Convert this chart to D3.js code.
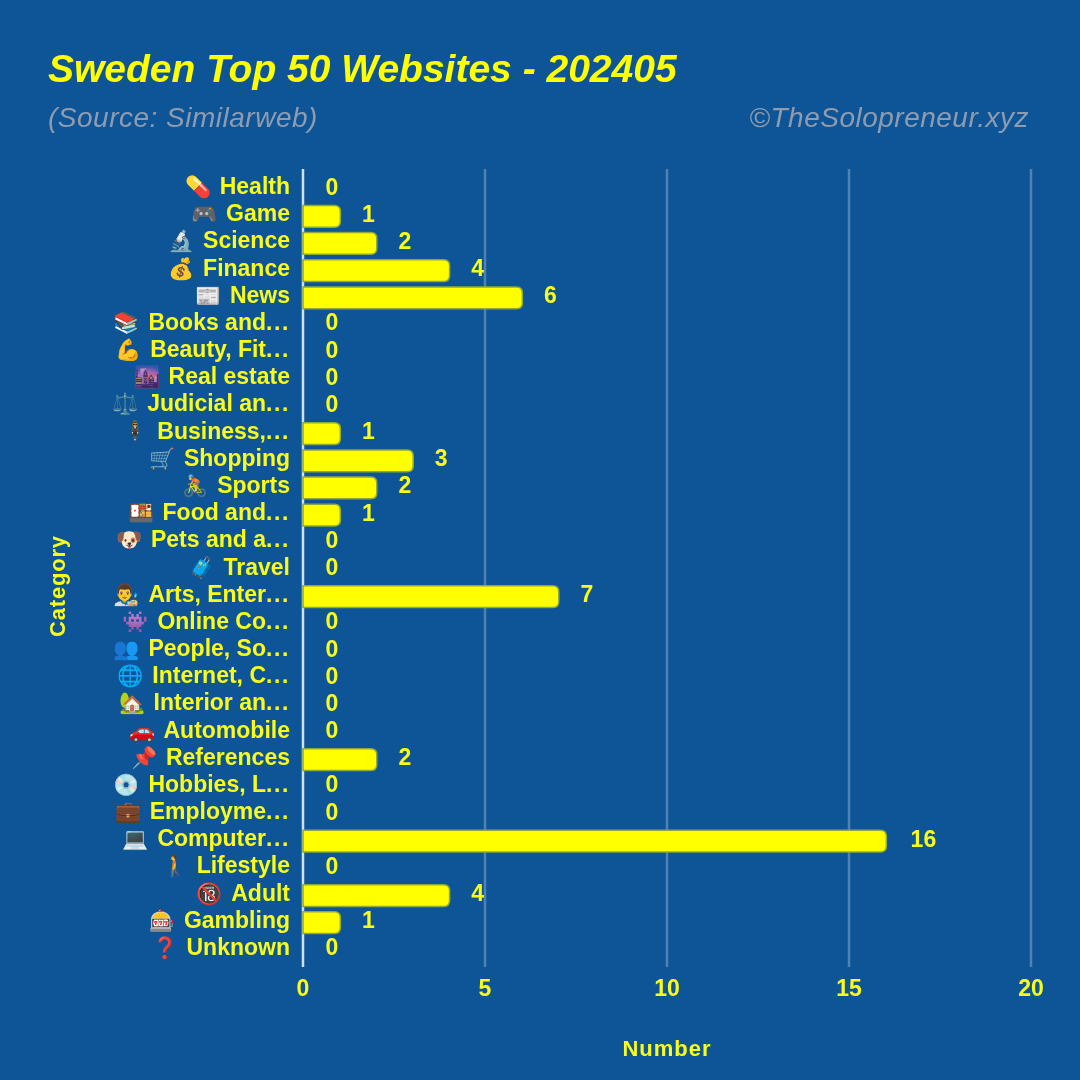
<!DOCTYPE html>
<html><head><meta charset="utf-8">
<script src="https://cdn.jsdelivr.net/npm/d3@7/dist/d3.min.js"></script>
<style>html,body{margin:0;padding:0;background:#0d5596}svg{display:block;filter:blur(0.55px)}text{font-family:"Liberation Sans",Arial,sans-serif}</style>
</head><body><svg id="c" width="1080" height="1080"></svg>
<script>
const icons=["💊","🎮","🔬","💰","📰","📚","💪","🌆","⚖️","🕴️","🛒","🚴","🍱","🐶","🧳","👨‍🎨","👾","👥","🌐","🏡","🚗","📌","💿","💼","💻","🚶","🔞","🎰","❓"];
const categories=["Health","Game","Science","Finance","News","Books and","Beauty, Fit","Real estate","Judicial an","Business,","Shopping","Sports","Food and","Pets and a","Travel","Arts, Enter","Online Co","People, So","Internet, C","Interior an","Automobile","References","Hobbies, L","Employme","Computer","Lifestyle","Adult","Gambling","Unknown"];
const truncated=[5,6,8,9,12,13,15,16,17,18,19,22,23,24];
const values=[0,1,2,4,6,0,0,0,0,1,3,2,1,0,0,7,0,0,0,0,0,2,0,0,16,0,4,1,0];
const xTicks=[0,5,10,15,20];
const W=1080,YEL="#ffff00",TXT="#fbfb1a";
const svg=d3.select("#c");
svg.append("rect").attr("x",-5).attr("y",-5).attr("width",W+10).attr("height",W+10).attr("fill","#0d5596");
const x=d3.scaleLinear().domain([0,20]).range([303,1031]);
const y=d3.scaleBand().domain(categories).range([175.5,963.5]).paddingInner(0.2).paddingOuter(0.1);
const g=svg.append("g");
g.selectAll("line.grid").data(xTicks).join("line").attr("x1",d=>x(d)).attr("x2",d=>x(d)).attr("y1",169).attr("y2",967)
 .attr("stroke",d=>d===0?"#cfe0f0":"#4f82b2").attr("stroke-width",2.5);
g.selectAll("path.bar").data(values.map((v,i)=>({v,c:categories[i]})).filter(d=>d.v>0)).join("path").attr("fill",YEL).attr("stroke","#8fa83a").attr("stroke-width",1.5)
 .attr("d",d=>{const x0=x(0),x1=x(d.v)+1,t=y(d.c),h=y.bandwidth(),r=6;return `M${x0},${t}H${x1-r}Q${x1},${t} ${x1},${t+r}V${t+h-r}Q${x1},${t+h} ${x1-r},${t+h}H${x0}Z`;});
g.selectAll("text.val").data(values).join("text").attr("x",d=>x(d)+(d>=10?38:29)).attr("y",(d,i)=>y(categories[i])+y.bandwidth()/2+5.5)
 .attr("text-anchor","middle").attr("fill",TXT).attr("font-size",23).attr("font-weight",700).text(d=>d);
categories.forEach((c,i)=>{
 const t=g.append("text").attr("x",290).attr("y",y(c)+y.bandwidth()/2+5).attr("text-anchor","end").attr("fill",TXT).attr("font-size",23).attr("font-weight",700);
 t.append("tspan").attr("font-size",21).text(icons[i]);
 t.append("tspan").attr("dx",9).text(c);
 if(truncated.includes(i)) t.append("tspan").attr("letter-spacing","1.6px").text("...");
});
g.selectAll("text.xt").data(xTicks).join("text").attr("x",d=>x(d)).attr("y",996).attr("text-anchor","middle").attr("fill",TXT).attr("font-size",23).attr("font-weight",700).text(d=>d);
svg.append("text").attr("x",667).attr("y",1056).attr("text-anchor","middle").attr("fill",TXT).attr("font-size",22).attr("font-weight",700).attr("letter-spacing","1px").text("Number");
svg.append("text").attr("transform","translate(65,586) rotate(-90)").attr("text-anchor","middle").attr("fill",TXT).attr("font-size",22).attr("font-weight",700).attr("letter-spacing","0.8px").text("Category");
svg.append("text").attr("x",48).attr("y",82).attr("fill",YEL).attr("font-size",39).attr("font-weight",700).attr("font-style","italic").text("Sweden Top 50 Websites - 202405");
svg.append("text").attr("x",48).attr("y",127).attr("fill","#8f9cb0").attr("font-size",28).attr("font-style","italic").attr("letter-spacing","0.5px").text("(Source: Similarweb)");
svg.append("text").attr("x",1029).attr("y",127).attr("text-anchor","end").attr("fill","#8f9cb0").attr("font-size",28).attr("font-style","italic").attr("letter-spacing","0.5px").text("©TheSolopreneur.xyz");
</script></body></html>
